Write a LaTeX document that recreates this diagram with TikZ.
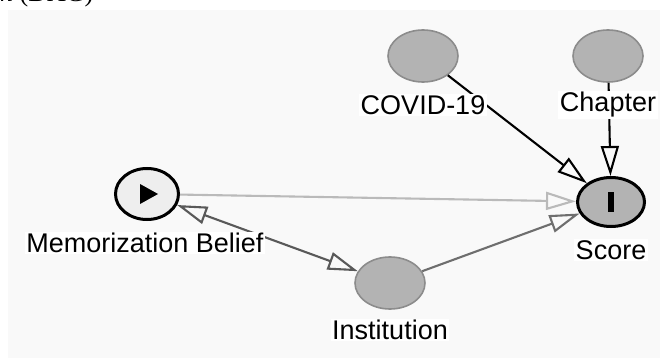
\documentclass[tikz,border=0pt]{standalone}
\usepackage{fontspec}
\setmainfont{Liberation Sans}
\newfontfamily\legende{Liberation Serif}
\usetikzlibrary{shapes.geometric,arrows.meta}

\definecolor{fond}{HTML}{F9F9F9}
\definecolor{gristache}{HTML}{B3B3B3}
\definecolor{grisbord}{HTML}{8C8C8C}
\definecolor{grisclair}{HTML}{EEEEEE}

\tikzset{sommet/.style = {ellipse, draw=grisbord, fill=gristache, line width=1.6pt,
                          minimum width=70pt, minimum height=52pt},
         expose/.style = {sommet, draw=black, fill=grisclair, line width=3pt,
                          minimum width=63pt, minimum height=51pt},
         issue/.style = {sommet, draw=black, line width=3pt,
                         minimum width=67pt, minimum height=49pt},
         etiquette/.style = {fill=white, inner sep=1.5pt, font=\fontsize{27}{31}\selectfont},
         pointe/.tip = {Triangle[open, length=30pt, width=18pt]},
         fleche/.style = {line width=2.1pt, -pointe},
        }

\begin{document}
\begin{tikzpicture}[x=1pt, y=-1pt]
  \useasboundingbox (0,0) rectangle (660,358);
  \clip (0,0) rectangle (660,358);
  \fill[fond] (8,10) rectangle (660,358);
  \node[anchor=base west, inner sep=0pt, font=\legende\fontsize{26}{30}\selectfont]
       (titre) at (0,2) {\textit{h} (DAG)};

  % sommets
  \node[expose] (memo)   at (147,194) {};
  \node[sommet] (covid)  at (423,56)  {};
  \node[sommet] (chap)   at (608,56)  {};
  \node[issue]  (score)  at (611,202) {};
  \node[sommet] (inst)   at (390,283) {};

  \fill ([shift={(-7,-10)}]memo.center) -- ([shift={(-7,10)}]memo.center)
        -- ([shift={(11,0)}]memo.center) -- cycle;
  \fill ([shift={(-3,-10)}]score.center) rectangle ([shift={(3,10)}]score.center);

  % aretes
  \draw[fleche, draw=black] (covid) -- (score);
  \draw[fleche, draw=black] (chap) -- (score);
  \draw[fleche, draw=black!27] (memo) -- (score);
  \draw[fleche, draw=black!57] (inst) -- (score);
  \draw[fleche, pointe-pointe, draw=black!65] (memo) -- (inst);

  % etiquettes
  \node[etiquette] (lmemo)  at (145,243) {Memorization Belief};
  \node[etiquette] (lcovid) at (423,105) {COVID-19};
  \node[etiquette] (lchap)  at (608,105) {Chapter};
  \node[etiquette] (lscore) at (611,250) {Score};
  \node[etiquette] (linst)  at (390,330) {Institution};
\end{tikzpicture}
\end{document}
